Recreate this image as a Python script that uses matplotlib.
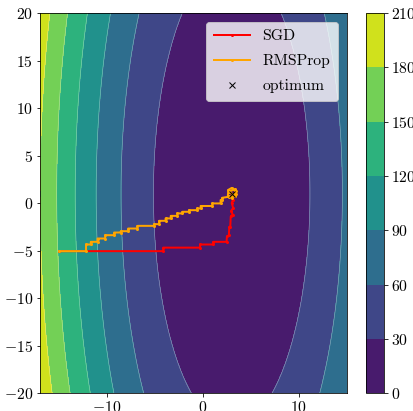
import numpy as np
import matplotlib
matplotlib.use("Agg")
import matplotlib.pyplot as plt

plt.rcParams['font.family'] = 'serif'
plt.rcParams['font.serif'] = ['cmr10']
plt.rcParams['mathtext.fontset'] = 'cm'
plt.rcParams['axes.formatter.use_mathtext'] = True
plt.rcParams['font.size'] = 15.7

# objective: f(x, y) = a (x - x0)^2 + b (y - y0)^2
coef_a = 0.45
coef_b = 0.05
optimum_x = [3.0]
optimum_y = [1.0]
x_range = [-17, 15]
y_range = [-20, 20]

sgd_x = [-15.0, -4.15, -4.15, -0.3, -0.3, 1.08, 1.08, 2.47, 2.5, 2.7, 2.75, 2.85, 2.9, 3.1, 2.95, 3.15, 3.0, 3.1, 3.0, 3.0]
sgd_y = [-5.05, -5.05, -4.68, -4.68, -4.35, -4.35, -4.07, -4.07, -3.5, -3.4, -2.5, -2.5, -1.4, -1.2, -0.8, -0.5, 0.0, 0.3, 0.7, 1.0]

rms_x = [-15.0, -12.2, -12.2, -11.7, -11.7, -11.0, -11.0, -10.2, -10.2, -9.27, -9.27, -8.57, -8.57, -7.8, -7.8,
         -6.83, -6.83, -5.1, -5.1, -4.58, -4.58, -3.9, -3.9, -3.36, -3.36, -2.67, -2.67, -2.15, -2.15, -1.46, -1.46,
         -0.58, -0.58, -0.24, -0.24, 0.98, 0.98, 1.84, 1.84, 2.0, 2.0, 2.7,
         3.35, 3.4, 3.0, 2.65, 2.6, 3.0, 3.4, 3.3, 2.7, 3.0]
rms_y = [-5.05, -5.05, -4.35, -4.35, -4.07, -4.07, -3.72, -3.72, -3.37, -3.37, -3.09, -3.09, -2.95, -2.95, -2.67,
         -2.67, -2.39, -2.39, -2.21, -2.21, -1.86, -1.86, -1.61, -1.61, -1.34, -1.34, -1.08, -1.08, -0.91, -0.91, -0.74,
         -0.74, -0.56, -0.56, -0.3, -0.3, -0.03, -0.03, 0.32, 0.32, 0.56, 0.67,
         0.75, 1.3, 1.6, 1.4, 0.8, 0.55, 1.0, 1.45, 1.2, 1.0]

fig = plt.figure(figsize=(413 / 72, 411 / 72), dpi=72)
ax = fig.add_axes([0.0969, 0.0431, 0.7426, 0.9253])
cax = fig.add_axes([0.8855, 0.0431, 0.045, 0.9253])

xs = np.linspace(x_range[0], x_range[1], 300)
ys = np.linspace(y_range[0], y_range[1], 300)
X, Y = np.meshgrid(xs, ys)
Z = coef_a * (X - optimum_x[0]) ** 2 + coef_b * (Y - optimum_y[0]) ** 2

levels = np.arange(0, 211, 30)
cf = ax.contourf(X, Y, Z, levels=levels, cmap='viridis')
ax.contour(X, Y, Z, levels=levels, colors='white', linewidths=0.6, alpha=0.45)

ax.plot(sgd_x, sgd_y, color='red', marker='.', markersize=4, linewidth=2, label='SGD')
ax.plot(rms_x, rms_y, color='orange', marker='.', markersize=4, linewidth=2, label='RMSProp')
ax.plot(optimum_x, optimum_y, linestyle='none', marker='x', color='black', markersize=6, label='optimum', zorder=5)

ax.set_xlim(x_range)
ax.set_ylim(y_range)
ax.set_xticks([-10, 0, 10])
ax.set_yticks([-20, -15, -10, -5, 0, 5, 10, 15, 20])
ax.legend(loc='upper right', fontsize=15.7, handlelength=2.3, labelspacing=0.7,
          borderpad=0.5, borderaxespad=0.55)

cb = fig.colorbar(cf, cax=cax)
cb.set_ticks(levels)

fig.savefig('out.png', dpi=72)
